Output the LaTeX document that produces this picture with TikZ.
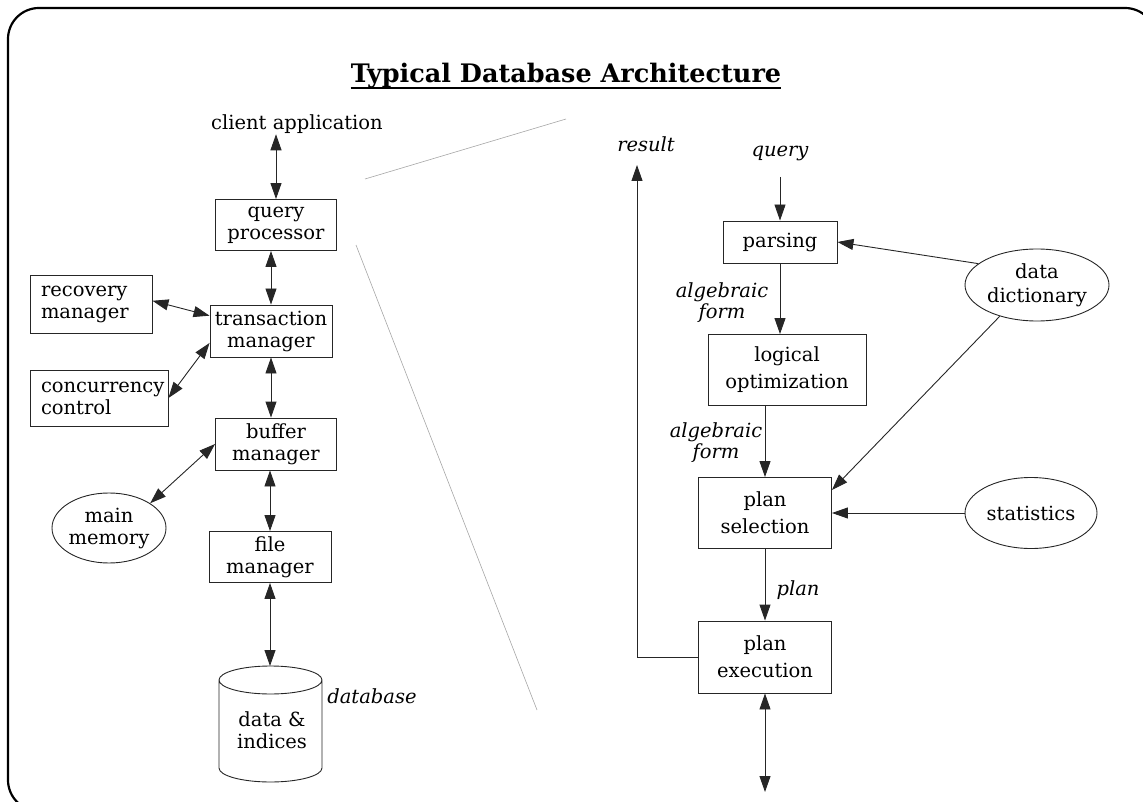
\documentclass[tikz,border=0pt]{standalone}
\usepackage{fontspec}
\setmainfont{DejaVu Serif}
\usetikzlibrary{arrows.meta,shapes.geometric}
\tikzset{
  x=1pt, y=-1pt,
  txt/.style={font=\fontsize{19.5}{22}\selectfont},
  box/.style={draw=black!85, line width=0.9pt, inner sep=0pt, align=center, txt},
  rbox/.style={box, font=\fontsize{19.5}{27}\selectfont},
  oval/.style={draw=black!85, line width=0.9pt, ellipse, inner sep=0pt, align=center, txt},
  lbl/.style={inner sep=0pt, align=center, font=\fontsize{19.5}{21}\selectfont\itshape},
  arr/.style={-{Triangle[length=16pt,width=11pt]}, line width=0.9pt, draw=black!85},
  darr/.style={{Triangle[length=16pt,width=11pt]}-{Triangle[length=16pt,width=11pt]}, line width=0.9pt, draw=black!85},
  guide/.style={draw=black!35, line width=0.6pt}
}
\begin{document}
\begin{tikzpicture}
\useasboundingbox (0,0) rectangle (1143,802);
\begin{scope}
  \clip (0,0) rectangle (1143,802);
  \draw[line width=2.2pt, rounded corners=31pt] (8,8) rectangle (1156,811);
\end{scope}

% title
\node[anchor=base, inner sep=0pt, font=\fontsize{25.5}{30}\selectfont\bfseries] (title) at (566,83) {Typical Database Architecture};
\draw[line width=2pt] ([yshift=-5pt]title.base west) -- ([yshift=-5pt]title.base east);

% guide lines
\coordinate (g1a) at (365,179); \coordinate (g1b) at (566,119);
\coordinate (g2a) at (356,245); \coordinate (g2b) at (537,710);
\draw[guide] (g1a) -- (g1b);
\draw[guide] (g2a) -- (g2b);

% left column
\node[anchor=base, inner sep=0pt, txt] (ca) at (297,130) {client application};
\node[box, minimum width=121, minimum height=51] (qp) at (276,225) {query\\processor};
\node[box, minimum width=122, minimum height=52] (tm) at (271,331) {transaction\\manager};
\node[box, align=left, minimum width=122, minimum height=58, text width=100] (rm) at (91,304) {recovery\\manager};
\node[box, align=left, minimum width=138, minimum height=56, text width=116] (cc) at (99,398) {concurrency\\control};
\node[box, minimum width=121, minimum height=52] (bm) at (276,444) {buffer\\manager};
\node[oval, minimum width=114, minimum height=70] (mm) at (109,528) {main\\memory};
\node[box, minimum width=122, minimum height=51] (fm) at (270,557) {file\\manager};

% database cylinder
\coordinate (dbtop) at (271,666);
\draw[line width=0.9pt, draw=black!85]
  (219,680) arc[start angle=180, end angle=360, x radius=51.5pt, y radius=14pt]
  (219,680) arc[start angle=180, end angle=0, x radius=51.5pt, y radius=14pt]
  -- (322,768) arc[start angle=0, end angle=-180, x radius=51.5pt, y radius=14pt] -- cycle;
\node[inner sep=0pt, align=center, txt] (db) at (272,730) {data \&\\indices};
\node[anchor=base, lbl] (dblbl) at (372,703) {database};

\draw[darr] (ca.south -| qp.north) -- (qp.north);
\draw[darr] (qp.south -| tm.north) -- (tm.north);
\draw[darr] (rm.3) -- (tm.166);
\draw[darr] (cc.east) -- (tm.191);
\draw[darr] (tm.south) -- (tm.south |- bm.north);
\draw[darr] (mm.31) -- (bm.west);
\draw[darr] (fm.north |- bm.south) -- (fm.north);
\draw[darr] (fm.south) -- (fm.south |- dbtop);

% right column
\node[anchor=base, lbl] (res) at (646,152) {result};
\node[anchor=base, lbl] (qry) at (780,157) {query};
\coordinate (restop) at (637,165);
\coordinate (qtop) at (780,177);
\node[rbox, minimum width=114, minimum height=42] (pa) at (780,242) {parsing};
\node[rbox, minimum width=158, minimum height=71] (lo) at (787,370) {logical\\optimization};
\node[rbox, minimum width=133, minimum height=71] (ps) at (765,513) {plan\\selection};
\node[rbox, minimum width=133, minimum height=72] (pe) at (765,657) {plan\\execution};
\node[oval, minimum width=144, minimum height=72, font=\fontsize{19.5}{24}\selectfont] (dd) at (1037,285) {data\\dictionary};
\node[oval, minimum width=132, minimum height=71] (st) at (1031,513) {statistics};
\node[lbl] (af1) at (722,303) {algebraic\\form};
\node[lbl] (af2) at (716,443) {algebraic\\form};
\node[anchor=base, lbl] (pl) at (798,595) {plan};
\coordinate (bot) at (765,792);

\draw[arr] (qtop) -- (pa.north);
\draw[arr] (pa.south) -- (pa.south |- lo.north);
\draw[arr] (ps.north |- lo.south) -- (ps.north);
\draw[arr] (ps.south) -- (pe.north);
\draw[darr] (pe.south) -- (bot);
\draw[arr] (pe.west) -| (restop);
\draw[arr] (dd.160) -- (pa.east);
\draw[arr] (dd.220) -- (ps.19);
\draw[arr] (st.west) -- (ps.east);
\end{tikzpicture}
\end{document}
